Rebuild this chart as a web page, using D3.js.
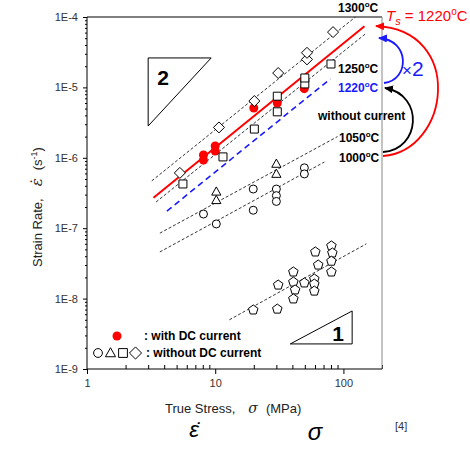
<!DOCTYPE html>
<html>
<head>
<meta charset="utf-8">
<script src="https://cdn.jsdelivr.net/npm/d3@7"></script>
<style>
body { margin: 0; background: #fff; }
text { font-family: "Liberation Sans", Arial, sans-serif; }
</style>
</head>
<body>
<div id="chart"></div>
<script>
// stress (MPa), strain rate (1/s)
var diamonds1300 = [[5.3, 6.1e-7], [10.7, 2.7e-6], [20.2, 6.4e-6], [31, 1.6e-5], [52, 2.5e-5], [52, 3.1e-5], [83, 6.1e-5]];
var squares1250 = [[5.6, 4.25e-7], [11.5, 1.03e-6], [20.2, 2.56e-6], [30.5, 4.5e-6], [30.5, 7.5e-6], [50, 1.12e-5], [50, 1.36e-5], [80, 2.15e-5]];
var withDC1220 = [[8.1, 9.3e-7], [8.1, 1.1e-6], [10, 1.25e-6], [10, 1.47e-6], [20, 5.1e-6], [30.5, 6.0e-6], [49.5, 9.6e-6]];
var triangles1050 = [[10.2, 3.3e-7], [10.2, 2.5e-7], [30, 8.2e-7], [30, 5.9e-7]];
var circles1000 = [[8.1, 1.59e-7], [10.2, 1.15e-7], [19.8, 3.6e-7], [19.8, 1.8e-7], [30, 3.6e-7], [30, 2.9e-7], [30, 2.4e-7], [49.6, 7.2e-7], [49.6, 5.9e-7]];
var pentagons = [[19.8, 6.9e-9], [30.5, 7.1e-9], [31, 1.56e-8], [40.7, 2.39e-8], [40.7, 1.72e-8], [42, 1.33e-8], [40.7, 9.9e-9], [49.6, 1.67e-8],
  [59.3, 1.9e-8], [59.3, 1.61e-8], [59.3, 1.28e-8], [60.4, 4.6e-8], [63.6, 3.0e-8], [80.6, 5.6e-8], [82, 4.45e-8], [80.6, 3.4e-8], [80.6, 2.39e-8]];

// fitted lines: two end points each
var fit1300 = [[3.2, 4.7e-7], [124, 1e-4]];
var fitDC = [[3.3, 2.7e-7], [146, 7.4e-5]];
var fit1250 = [[3.46, 2.36e-7], [151, 5.9e-5]];
var fit1220 = [[4.2, 1.75e-7], [79, 1.32e-5]];
var fit1050 = [[3.7, 8.5e-8], [90, 2.0e-6]];
var fit1000 = [[3.7, 4.6e-8], [71, 8.7e-7]];
var fitLow = [[12.9, 5.0e-9], [151, 6.0e-8]];

// slope triangles
var tri2 = [[3.0, 2.62e-5], [9.3, 2.62e-5], [3.0, 2.83e-6]];
var tri1 = [[38.5, 2.27e-9], [117, 6.67e-9], [117, 2.27e-9]];

var yMajor = [1e-4, 1e-5, 1e-6, 1e-7, 1e-8, 1e-9];
var xMajor = [1, 10, 100];

var svg = d3.select("#chart").append("svg").attr("width", 470).attr("height", 450);

var x = d3.scaleLog().domain([1, 200]).range([87, 382]);
var y = d3.scaleLog().domain([1e-9, 1e-4]).range([369, 17]);

// minor ticks
var yMinor = [];
for (var e = -9; e < -4; e++) for (var m = 2; m < 10; m++) yMinor.push(m * Math.pow(10, e));
var xMinor = [];
for (var e2 = 0; e2 < 3; e2++) for (var m2 = 2; m2 < 10; m2++) { var v = m2 * Math.pow(10, e2); if (v <= 200) xMinor.push(v); }

svg.append("g").attr("transform", "translate(87,0)")
  .call(d3.axisLeft(y).tickValues(yMajor).tickSize(4).tickPadding(5).tickFormat(function (d) { return "1E" + Math.round(Math.log10(d)); }));
svg.append("g").attr("transform", "translate(87,0)")
  .call(d3.axisLeft(y).tickValues(yMinor).tickSize(2).tickFormat(""));
svg.append("g").attr("transform", "translate(0,369)")
  .call(d3.axisBottom(x).tickValues(xMajor).tickSize(5).tickPadding(5).tickFormat(d3.format("d")));
svg.append("g").attr("transform", "translate(0,369)")
  .call(d3.axisBottom(x).tickValues(xMinor).tickSize(-4).tickFormat(""));
svg.selectAll(".domain").remove();
svg.selectAll(".tick line").attr("stroke", "#000");
svg.selectAll(".tick text").attr("font-size", 11).attr("fill", "#333").attr("font-family", "Liberation Sans, Arial, sans-serif");

// frame
svg.append("line").attr("x1", 87).attr("x2", 382).attr("y1", 17).attr("y2", 17).attr("stroke", "#000");
svg.append("line").attr("x1", 382).attr("x2", 382).attr("y1", 17).attr("y2", 369).attr("stroke", "#888");
svg.append("line").attr("x1", 87).attr("x2", 87).attr("y1", 17).attr("y2", 369).attr("stroke", "#000");
svg.append("line").attr("x1", 87).attr("x2", 382).attr("y1", 369).attr("y2", 369).attr("stroke", "#000");

var lineGen = d3.line().x(function (d) { return x(d[0]); }).y(function (d) { return y(d[1]); });

[fit1300, fit1250, fit1050, fit1000, fitLow].forEach(function (f) {
  svg.append("path").attr("d", lineGen(f)).attr("fill", "none").attr("stroke", "#000")
    .attr("stroke-width", 0.8).attr("stroke-dasharray", "3,2");
});
svg.append("path").attr("d", lineGen(fit1220)).attr("fill", "none").attr("stroke", "#1a1aff")
  .attr("stroke-width", 1.6).attr("stroke-dasharray", "6,4");
svg.append("path").attr("d", lineGen(fitDC)).attr("fill", "none").attr("stroke", "#ff0000").attr("stroke-width", 2);

// slope triangles
[tri2, tri1].forEach(function (t) {
  svg.append("path").attr("d", lineGen(t) + "Z").attr("fill", "none").attr("stroke", "#000").attr("stroke-width", 1);
});
svg.append("text").attr("x", 163).attr("y", 85).attr("text-anchor", "middle").attr("font-size", 21).attr("font-weight", "bold").text("2");
svg.append("text").attr("x", 338).attr("y", 341).attr("text-anchor", "middle").attr("font-size", 21).attr("font-weight", "bold").text("1");

// symbols
function pentagonPath(r) {
  var p = [];
  for (var k = 0; k < 5; k++) {
    var a = -Math.PI / 2 + k * 2 * Math.PI / 5;
    p.push([r * Math.cos(a), r * Math.sin(a)]);
  }
  return "M" + p.join("L") + "Z";
}
var shapes = {
  circle: "M4,0A4,4 0 1,1 -4,0A4,4 0 1,1 4,0Z",
  triangle: "M0,-4.8L4.6,3.4L-4.6,3.4Z",
  square: "M-4,-4H4V4H-4Z",
  diamond: "M0,-5.5L5.5,0L0,5.5L-5.5,0Z",
  pentagon: pentagonPath(5)
};

svg.selectAll(".dc").data(withDC1220).enter().append("circle").attr("class", "dc")
  .attr("cx", function (d) { return x(d[0]); }).attr("cy", function (d) { return y(d[1]); })
  .attr("r", 4.5).attr("fill", "#ff0000");

function drawOpen(data, shape) {
  svg.append("g").selectAll("path").data(data).enter().append("path")
    .attr("d", shapes[shape])
    .attr("transform", function (d) { return "translate(" + x(d[0]) + "," + y(d[1]) + ")"; })
    .attr("fill", "#fff").attr("stroke", "#000").attr("stroke-width", 1);
}
drawOpen(circles1000, "circle");
drawOpen(triangles1050, "triangle");
drawOpen(squares1250, "square");
drawOpen(diamonds1300, "diamond");
drawOpen(pentagons, "pentagon");

// legend
svg.append("circle").attr("cx", 117).attr("cy", 336).attr("r", 4.5).attr("fill", "#ff0000");
["circle", "triangle", "square", "diamond"].forEach(function (s, i) {
  svg.append("path").attr("d", shapes[s]).attr("transform", "translate(" + (98 + i * 12.5) + ",353) scale(1.1)")
    .attr("fill", "#fff").attr("stroke", "#000").attr("stroke-width", 0.9);
});
svg.append("text").attr("x", 144).attr("y", 340).attr("font-size", 12).attr("font-weight", "bold").text(": with DC current");
svg.append("text").attr("x", 146).attr("y", 357).attr("font-size", 12).attr("font-weight", "bold").text(": without DC current");

// temperature labels on the right
function tempLabel(t, xx, yy, color) {
  var tx = svg.append("text").attr("x", xx).attr("y", yy).attr("font-size", 12).attr("font-weight", "bold").attr("fill", color);
  tx.append("tspan").text(t);
  tx.append("tspan").attr("font-size", 8).attr("dy", -5).text("o");
  tx.append("tspan").attr("dy", 5).text("C");
}
tempLabel("1300", 338, 12, "#000");
tempLabel("1250", 338, 73, "#000");
tempLabel("1220", 338, 92, "#1a1aff");
svg.append("text").attr("x", 318).attr("y", 120).attr("font-size", 12).attr("font-weight", "bold").text("without current");
tempLabel("1050", 339, 142, "#000");
tempLabel("1000", 339, 162, "#000");

// arrows
var defs = svg.append("defs");
[["ar", "#ff0000"], ["ab", "#1a1aff"], ["ak", "#000"]].forEach(function (m) {
  defs.append("marker").attr("id", m[0]).attr("markerUnits", "userSpaceOnUse")
    .attr("markerWidth", 9).attr("markerHeight", 8).attr("refX", 8).attr("refY", 4).attr("orient", "auto")
    .append("path").attr("d", "M0,0L9,4L0,8Z").attr("fill", m[1]);
});
svg.append("path").attr("d", "M383,156C450,151 465,30 376,26").attr("fill", "none")
  .attr("stroke", "#ff0000").attr("stroke-width", 1.8).attr("marker-end", "url(#ar)");
svg.append("path").attr("d", "M383,152C420,150 425,95 385,88").attr("fill", "none")
  .attr("stroke", "#000").attr("stroke-width", 1.8).attr("marker-end", "url(#ak)");
svg.append("path").attr("d", "M384,83C410,80 410,40 379,38").attr("fill", "none")
  .attr("stroke", "#1a1aff").attr("stroke-width", 1.8).attr("marker-end", "url(#ab)");

var ts = svg.append("text").attr("x", 386).attr("y", 21).attr("font-size", 15).attr("fill", "#ff0000");
ts.append("tspan").attr("font-style", "italic").text("T");
ts.append("tspan").attr("font-style", "italic").attr("font-size", 11).attr("dy", 4).text("s");
ts.append("tspan").attr("dy", -4).text(" = 1220");
ts.append("tspan").attr("font-size", 10).attr("dy", -6).text("o");
ts.append("tspan").attr("dy", 6).text("C");

var x2 = svg.append("text").attr("x", 402).attr("y", 76).attr("fill", "#1a1aff");
x2.append("tspan").attr("font-size", 17).text("\u00d7");
x2.append("tspan").attr("font-size", 21).text("2");

// axis titles
var xt = svg.append("text").attr("x", 165).attr("y", 413).attr("font-size", 13).attr("fill", "#222");
xt.append("tspan").text("True Stress,");
xt.append("tspan").attr("dx", 13).attr("font-family", "DejaVu Serif, serif").attr("font-style", "italic").attr("font-size", 14).text("\u03c3");
xt.append("tspan").attr("dx", 8).text("(MPa)");

var yt = svg.append("text").attr("transform", "translate(42,267) rotate(-90)").attr("font-size", 13).attr("fill", "#222");
yt.append("tspan").text("Strain Rate,");
yt.append("tspan").attr("dx", 12).attr("font-family", "DejaVu Serif, serif").attr("font-style", "italic").attr("font-size", 15).text("\u03b5\u0307");
yt.append("tspan").attr("dx", 8).text("(s");
yt.append("tspan").attr("font-size", 9).attr("dy", -5).text("-1");
yt.append("tspan").attr("dy", 5).text(")");

// symbols under the chart
svg.append("text").attr("x", 194).attr("y", 437).attr("text-anchor", "middle").attr("font-size", 22)
  .attr("font-family", "DejaVu Serif, serif").attr("font-style", "italic").text("\u03b5\u0307");
svg.append("text").attr("x", 315).attr("y", 440).attr("text-anchor", "middle").attr("font-size", 24)
  .attr("font-family", "DejaVu Serif, serif").attr("font-style", "italic").text("\u03c3");
svg.append("text").attr("x", 395).attr("y", 430).attr("font-size", 11).attr("fill", "#333").text("[4]");
</script>
</body>
</html>
